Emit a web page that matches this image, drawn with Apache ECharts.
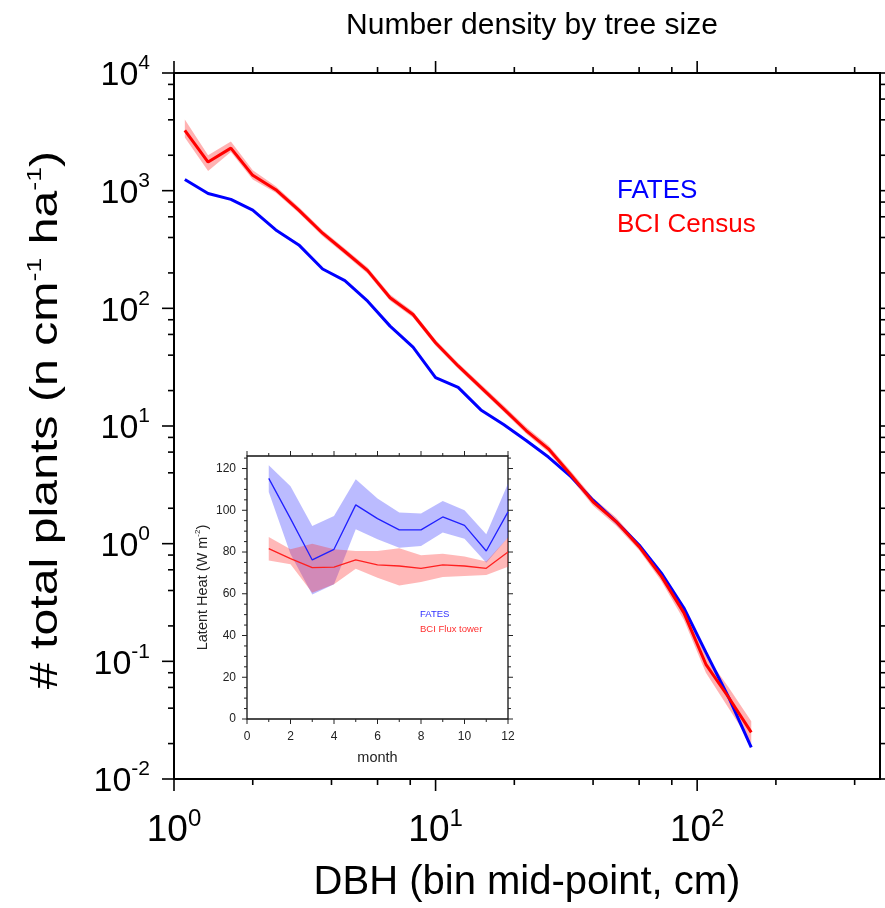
<!DOCTYPE html>
<html>
<head>
<meta charset="utf-8">
<script src="https://cdn.jsdelivr.net/npm/echarts@6/dist/echarts.min.js"></script>
<style>html,body{margin:0;padding:0;background:#fff}#c{width:885px;height:908px}</style>
</head>
<body>
<div id="c"></div>
<script>
// ---------- main chart data (DBH bin mid-points, cm) ----------
const dbh = [1.1, 1.35, 1.65, 2.0, 2.45, 3.0, 3.7, 4.5, 5.5, 6.7, 8.2, 10, 12.2, 14.9, 18.2, 22.2, 27, 33, 40, 49, 60, 73, 89, 108, 132, 161];
const fatesDensity = [1245, 946, 843, 684, 464, 346, 216, 172, 115, 70.6, 46.9, 25.8, 21.3, 13.7, 10.3, 7.53, 5.45, 3.69, 2.34, 1.54, 0.975, 0.562, 0.284, 0.119, 0.0493, 0.0186];
const censusDensity = [3250, 1750, 2300, 1350, 1020, 684, 435, 304, 209, 123, 88.7, 51, 32.4, 21.3, 14.0, 9.15, 6.40, 3.81, 2.27, 1.54, 0.944, 0.527, 0.258, 0.0944, 0.0493, 0.0249];
const censusLow = [2830, 1470, 2130, 1245, 960, 645, 410, 287, 197, 116, 83.5, 48, 30.6, 20.1, 13.2, 8.6, 5.98, 3.55, 2.1, 1.42, 0.88, 0.48, 0.225, 0.080, 0.040, 0.020];
const censusHigh = [4020, 1995, 2620, 1490, 1090, 725, 461, 322, 222, 131, 94, 54, 34.3, 22.6, 14.9, 9.8, 6.85, 4.1, 2.45, 1.67, 1.0, 0.58, 0.29, 0.112, 0.060, 0.031];

// ---------- inset data ----------
const months = [1, 2, 3, 4, 5, 6, 7, 8, 9, 10, 11, 12];
const fatesLH = [115.3, 96, 76.2, 81.3, 102.6, 96, 90.6, 90.6, 96.8, 92.8, 80.5, 99.2];
const fatesLHLow = [108.8, 79, 59.7, 64.5, 90.9, 86.1, 82.1, 82.9, 89.3, 86.4, 74.9, 86.9];
const fatesLHHigh = [121.6, 111.5, 92.5, 97.3, 114.9, 105.6, 98.9, 98.4, 104.5, 100, 88.5, 112.8];
const fluxLH = [81.6, 76.8, 72.5, 72.8, 76.2, 73.8, 73.3, 72.2, 73.8, 73.3, 72.2, 80];
const fluxLHLow = [75.9, 74.1, 60.5, 64.5, 72, 67.7, 64, 65.6, 68, 68.5, 69, 73];
const fluxLHHigh = [87.2, 81.3, 84, 81.3, 80.5, 80.5, 81.8, 78.4, 79.2, 77.8, 75.4, 86.9];

// ---------- tick values ----------
const xRange = [1, 500];
const yRange = [0.01, 10000];
const xMajor = [1, 10, 100];
const xMinor = [2, 4, 6, 8, 20, 40, 60, 80, 200, 400];
const yMajor = [0.01, 0.1, 1, 10, 100, 1000, 10000];
const yMinor = [0.02, 0.04, 0.06, 0.08, 0.2, 0.4, 0.6, 0.8, 2, 4, 6, 8, 20, 40, 60, 80, 200, 400, 600, 800, 2000, 4000, 6000, 8000];
const mRange = [0, 12];
const lhRange = [0, 126];
const mMajor = [0, 2, 4, 6, 8, 10, 12];
const mMinor = [1, 3, 5, 7, 9, 11];
const lhMajor = [0, 20, 40, 60, 80, 100, 120];
const lhMinor = [5, 10, 15, 25, 30, 35, 45, 50, 55, 65, 70, 75, 85, 90, 95, 105, 110, 115, 125];

const FONT = 'Liberation Sans, Arial, Helvetica, sans-serif';
const BLUE = '#0000ff';
const RED = '#ff0000';

function pow10Label(v) {
  const e = Math.log10(v);
  const r = Math.round(e);
  if (Math.abs(e - r) > 1e-6) return '';
  return '{b|10}{s|' + r + '}';
}

function bandRenderer(xs, lo, hi, color) {
  return function (params, api) {
    if (params.dataIndex !== 0) return;
    const pts = [];
    for (let i = 0; i < xs.length; i++) pts.push(api.coord([xs[i], hi[i]]));
    for (let i = xs.length - 1; i >= 0; i--) pts.push(api.coord([xs[i], lo[i]]));
    return { type: 'polygon', silent: true, shape: { points: pts }, style: { fill: color } };
  };
}

function tickRenderer(xr, yr, xMaj, xMin, yMaj, yMin, majLen, minLen, width, color) {
  return function (params, api) {
    if (params.dataIndex !== 0) return;
    const ch = [];
    const add = (x1, y1, x2, y2) => ch.push({ type: 'line', silent: true, shape: { x1, y1, x2, y2 }, style: { stroke: color, lineWidth: width } });
    const doX = (vals, len) => vals.forEach(v => {
      const b = api.coord([v, yr[0]]); add(b[0], b[1], b[0], b[1] + len);
      const t = api.coord([v, yr[1]]); add(t[0], t[1], t[0], t[1] - len);
    });
    const doY = (vals, len) => vals.forEach(v => {
      const l = api.coord([xr[0], v]); add(l[0], l[1], l[0] - len, l[1]);
      const r = api.coord([xr[1], v]); add(r[0], r[1], r[0] + len, r[1]);
    });
    doX(xMaj, majLen); doX(xMin, minLen); doY(yMaj, majLen); doY(yMin, minLen);
    return { type: 'group', children: ch };
  };
}

const chart = echarts.init(document.getElementById('c'), null, { renderer: 'canvas' });

const yRich = {
  b: { fontFamily: FONT, fontSize: 34, lineHeight: 40, color: '#000', verticalAlign: 'bottom' },
  s: { fontFamily: FONT, fontSize: 21, lineHeight: 21, color: '#000', verticalAlign: 'top' }
};
const xRich = {
  b: { fontFamily: FONT, fontSize: 37, lineHeight: 42, color: '#000', verticalAlign: 'bottom' },
  s: { fontFamily: FONT, fontSize: 24, lineHeight: 24, color: '#000', verticalAlign: 'top' }
};

const option = {
  animation: false,
  backgroundColor: '#fff',
  title: {
    text: 'Number density by tree size',
    left: 527, top: 6, textAlign: 'center',
    textStyle: { fontFamily: FONT, fontSize: 30, fontWeight: 'normal', color: '#000' }
  },
  grid: [
    { left: 174, top: 73, width: 706, height: 707, show: true, borderColor: '#000', borderWidth: 2, backgroundColor: 'transparent', containLabel: false },
    { left: 247, top: 456, width: 261, height: 263, show: true, borderColor: '#111', borderWidth: 1.3, backgroundColor: '#fff', containLabel: false }
  ],
  xAxis: [
    {
      type: 'log', logBase: 10, gridIndex: 0, min: xRange[0], max: xRange[1],
      axisLine: { show: false }, axisTick: { show: false }, splitLine: { show: false },
      axisLabel: { formatter: pow10Label, margin: 28, rich: xRich, interval: 0 },
      name: 'DBH (bin mid-point, cm)', nameLocation: 'middle', nameGap: 84,
      nameTextStyle: { fontFamily: FONT, fontSize: 40, color: '#000' }
    },
    {
      type: 'value', gridIndex: 1, min: mRange[0], max: mRange[1], interval: 2,
      axisLine: { show: false }, axisTick: { show: false }, splitLine: { show: false },
      axisLabel: { fontFamily: FONT, fontSize: 12, color: '#222', margin: 12 },
      name: 'month', nameLocation: 'middle', nameGap: 31,
      nameTextStyle: { fontFamily: FONT, fontSize: 14.5, color: '#222' }
    }
  ],
  yAxis: [
    {
      type: 'log', logBase: 10, gridIndex: 0, min: yRange[0], max: yRange[1],
      axisLine: { show: false }, axisTick: { show: false }, splitLine: { show: false },
      axisLabel: { formatter: pow10Label, margin: 24, rich: yRich, interval: 0 }
    },
    {
      type: 'value', gridIndex: 1, min: lhRange[0], max: lhRange[1], interval: 20,
      axisLine: { show: false }, axisTick: { show: false }, splitLine: { show: false },
      axisLabel: { fontFamily: FONT, fontSize: 12, color: '#222', margin: 11, showMaxLabel: false },
      name: 'Latent Heat (W m{s|-2})', nameLocation: 'middle', nameGap: 36,
      nameTextStyle: {
        fontFamily: FONT, fontSize: 14.5, color: '#222', lineHeight: 17,
        rich: { s: { fontFamily: FONT, fontSize: 8, lineHeight: 8, color: '#222', verticalAlign: 'top' } }
      }
    }
  ],
  series: [
    {
      type: 'custom', name: 'BCI Census range', xAxisIndex: 0, yAxisIndex: 0, z: 2,
      data: dbh.map((x, i) => [x, censusLow[i], censusHigh[i]]),
      renderItem: bandRenderer(dbh, censusLow, censusHigh, 'rgba(255,0,0,0.3)')
    },
    {
      type: 'line', name: 'FATES', xAxisIndex: 0, yAxisIndex: 0, z: 3,
      data: dbh.map((x, i) => [x, fatesDensity[i]]),
      showSymbol: false, symbol: 'none', lineStyle: { color: BLUE, width: 3 }
    },
    {
      type: 'line', name: 'BCI Census', xAxisIndex: 0, yAxisIndex: 0, z: 4,
      data: dbh.map((x, i) => [x, censusDensity[i]]),
      showSymbol: false, symbol: 'none', lineStyle: { color: RED, width: 3 }
    },
    {
      type: 'custom', name: 'main ticks', xAxisIndex: 0, yAxisIndex: 0, z: 5,
      data: [[1, 1]],
      renderItem: tickRenderer(xRange, yRange, xMajor, xMinor, yMajor, yMinor, 12, 6, 1.6, '#000')
    },
    {
      type: 'custom', name: 'FATES range', xAxisIndex: 1, yAxisIndex: 1, z: 6,
      data: months.map((m, i) => [m, fatesLHLow[i], fatesLHHigh[i]]),
      renderItem: bandRenderer(months, fatesLHLow, fatesLHHigh, 'rgba(60,60,255,0.35)')
    },
    {
      type: 'custom', name: 'BCI Flux range', xAxisIndex: 1, yAxisIndex: 1, z: 7,
      data: months.map((m, i) => [m, fluxLHLow[i], fluxLHHigh[i]]),
      renderItem: bandRenderer(months, fluxLHLow, fluxLHHigh, 'rgba(255,40,40,0.33)')
    },
    {
      type: 'line', name: 'FATES LH', xAxisIndex: 1, yAxisIndex: 1, z: 8,
      data: months.map((m, i) => [m, fatesLH[i]]),
      showSymbol: false, symbol: 'none', lineStyle: { color: '#2020ff', width: 1.3 }
    },
    {
      type: 'line', name: 'BCI Flux tower', xAxisIndex: 1, yAxisIndex: 1, z: 9,
      data: months.map((m, i) => [m, fluxLH[i]]),
      showSymbol: false, symbol: 'none', lineStyle: { color: '#ff2020', width: 1.3 }
    },
    {
      type: 'custom', name: 'inset ticks', xAxisIndex: 1, yAxisIndex: 1, z: 10,
      data: [[0, 0]],
      renderItem: tickRenderer(mRange, lhRange, mMajor, mMinor, lhMajor, lhMinor, 5, 3, 1, '#222')
    }
  ],
  graphic: [
    {
      type: 'text', x: 47, y: 420, rotation: Math.PI / 2, scaleX: 1.27, scaleY: 1,
      style: {
        text: '# total plants (n cm{s|-1} ha{s|-1})',
        font: '38px ' + FONT, fill: '#000', align: 'center', verticalAlign: 'middle', lineHeight: 44,
        rich: { s: { fontFamily: FONT, fontSize: 21, lineHeight: 21, fill: '#000', verticalAlign: 'top' } }
      }
    },
    { type: 'text', left: 617, top: 178, style: { text: 'FATES', fill: BLUE, font: '26px ' + FONT } },
    { type: 'text', left: 617, top: 212, style: { text: 'BCI Census', fill: RED, font: '26px ' + FONT } },
    { type: 'text', left: 420, top: 609, style: { text: 'FATES', fill: '#3030ff', font: '9.5px ' + FONT } },
    { type: 'text', left: 420, top: 624, style: { text: 'BCI Flux tower', fill: '#ff3030', font: '9.5px ' + FONT } }
  ]
};

chart.setOption(option);
</script>
</body>
</html>
